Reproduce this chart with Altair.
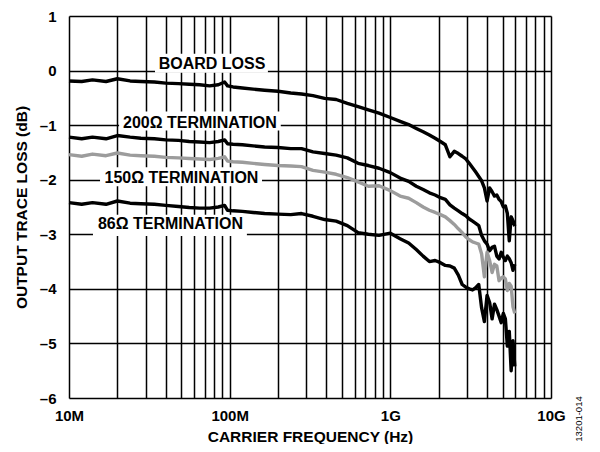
import altair as alt
import pandas as pd

# Frequencies in MHz (shared sample grid)
freq_mhz = [10, 12, 14, 17, 20, 24, 28, 34, 40, 48, 56, 65, 75, 85, 93, 97, 105, 120, 140, 165,
            200, 240, 280, 330, 390, 460, 540, 630, 730, 850, 1000, 1150, 1300, 1450, 1600, 1750,
            1900, 2050, 2200, 2350, 2500, 2650, 2800, 2950, 3100, 3250, 3400, 3550, 3700, 3850,
            4000, 4150, 4300, 4450, 4600, 4750, 4900, 5050, 5200, 5350, 5500, 5650, 5800, 5950]

board_loss = [-0.19, -0.20, -0.17, -0.20, -0.15, -0.19, -0.20, -0.21, -0.23, -0.24, -0.25, -0.26,
              -0.28, -0.26, -0.21, -0.28, -0.30, -0.32, -0.34, -0.36, -0.38, -0.41, -0.43, -0.46,
              -0.51, -0.53, -0.60, -0.66, -0.72, -0.78, -0.86, -0.93, -0.99, -1.06, -1.12, -1.18,
              -1.24, -1.30, -1.36, -1.58, -1.48, -1.52, -1.57, -1.62, -1.70, -1.78, -1.86, -1.94,
              -2.02, -2.15, -2.39, -2.15, -2.22, -2.30, -2.28, -2.36, -2.40, -2.50, -2.48, -2.62,
              -3.12, -2.68, -2.75, -2.85]

term_200 = [-1.22, -1.25, -1.22, -1.25, -1.19, -1.22, -1.24, -1.25, -1.27, -1.28, -1.30, -1.31,
            -1.32, -1.30, -1.27, -1.34, -1.35, -1.36, -1.38, -1.40, -1.41, -1.43, -1.43, -1.49,
            -1.52, -1.55, -1.60, -1.70, -1.74, -1.79, -1.87, -1.97, -2.03, -2.12, -2.18, -2.24,
            -2.28, -2.33, -2.36, -2.46, -2.52, -2.57, -2.62, -2.66, -2.72, -2.76, -2.80, -2.84,
            -3.02, -3.12, -3.18, -3.30, -3.24, -3.22, -3.40, -3.45, -3.33, -3.42, -3.48, -3.40,
            -3.45, -3.52, -3.66, -3.55]

term_150 = [-1.54, -1.57, -1.53, -1.56, -1.51, -1.55, -1.56, -1.57, -1.59, -1.60, -1.61, -1.62,
            -1.63, -1.61, -1.58, -1.66, -1.67, -1.68, -1.70, -1.72, -1.74, -1.75, -1.76, -1.83,
            -1.86, -1.90, -1.96, -2.04, -2.12, -2.11, -2.20, -2.30, -2.34, -2.42, -2.50, -2.56,
            -2.60, -2.64, -2.68, -2.75, -2.82, -2.90, -2.97, -3.05, -3.10, -3.14, -3.16, -3.18,
            -3.36, -3.78, -3.33, -3.48, -3.70, -3.55, -3.58, -3.85, -3.80, -3.78, -3.82, -4.03,
            -3.90, -3.95, -4.33, -4.45]

term_86 = [-2.42, -2.45, -2.42, -2.45, -2.39, -2.43, -2.44, -2.45, -2.47, -2.49, -2.51, -2.52,
           -2.52, -2.50, -2.47, -2.56, -2.57, -2.58, -2.60, -2.62, -2.63, -2.64, -2.62, -2.67,
           -2.73, -2.76, -2.84, -2.97, -3.00, -3.02, -2.98, -3.08, -3.16, -3.28, -3.40, -3.50,
           -3.48, -3.52, -3.57, -3.58, -3.62, -3.75, -3.92, -3.97, -4.00, -4.02, -3.98, -3.92,
           -4.35, -4.60, -4.12, -4.25, -4.55, -4.28, -4.38, -4.50, -4.62, -4.45, -4.55, -5.05,
           -4.78, -5.50, -4.95, -5.42]

series_names = ["BOARD LOSS", "200Ω TERMINATION", "86Ω TERMINATION", "150Ω TERMINATION"]
series_values = [board_loss, term_200, term_86, term_150]

# Label annotations: text, text position (MHz, dB), white box extents (MHz, dB)
label_text = ["BOARD LOSS", "200Ω TERMINATION", "150Ω TERMINATION", "86Ω TERMINATION"]
label_x = [77.6, 65.3, 50.1, 42.8]
label_y = [0.12, -0.96, -1.96, -2.82]
box_x0 = [34.3, 20.5, 15.6, 14.1]
box_x1 = [173, 208, 159, 128]
box_y0 = [0.31, -0.75, -1.77, -2.64]
box_y1 = [-0.04, -1.10, -2.12, -3.03]

x_tick_values = [10_000_000, 100_000_000, 1_000_000_000, 10_000_000_000]
x_tick_labels = ["10M", "100M", "1G", "10G"]
x_grid_values = [k * 10 ** n for n in (7, 8, 9) for k in range(1, 10)] + [10_000_000_000]
y_values = [-6, -5, -4, -3, -2, -1, 0, 1]

rows = []
for name, vals in zip(series_names, series_values):
    for f, v in zip(freq_mhz, vals):
        rows.append({"series": name, "freq": f * 1e6, "loss": v})
df = pd.DataFrame(rows)

labels_df = pd.DataFrame({
    "text": label_text,
    "x": [v * 1e6 for v in label_x],
    "y": label_y,
    "x0": [v * 1e6 for v in box_x0],
    "x1": [v * 1e6 for v in box_x1],
    "y0": box_y0,
    "y1": box_y1,
})

label_expr = " : ".join(
    f"datum.value == {v} ? '{t}'" for v, t in zip(x_tick_values, x_tick_labels)
) + " : ''"

FONT = "Liberation Sans"

xscale = alt.Scale(type="log", domain=[1e7, 1e10], nice=False)
yscale = alt.Scale(domain=[-6, 1], nice=False, zero=False)

x_axis = alt.Axis(values=x_grid_values, labelExpr=label_expr, grid=True, ticks=False,
                  domain=False, labelOverlap=False, labelFlush=False, labelFont=FONT,
                  labelFontSize=15, labelFontWeight="bold", labelColor="black", labelPadding=10,
                  title="CARRIER FREQUENCY (Hz)", titleFont=FONT, titleFontSize=15.5,
                  titleFontWeight="bold", titleColor="black", titlePadding=6,
                  gridColor="black", gridWidth=1.5, gridOpacity=1)
y_axis = alt.Axis(values=y_values,
                  labelExpr="datum.value < 0 ? '–' + abs(datum.value) : '' + datum.value",
                  grid=True, ticks=False, domain=False, labelFlush=False, labelFont=FONT,
                  labelFontSize=15, labelFontWeight="bold", labelColor="black", labelPadding=13,
                  title="OUTPUT TRACE LOSS (dB)", titleFont=FONT, titleFontSize=15.5,
                  titleFontWeight="bold", titleColor="black", titlePadding=10,
                  gridColor="black", gridWidth=1.5, gridOpacity=1)

base = alt.Chart(df).encode(
    x=alt.X("freq:Q", scale=xscale, axis=x_axis),
    y=alt.Y("loss:Q", scale=yscale, axis=y_axis),
)

black_lines = base.transform_filter(alt.datum.series != "150Ω TERMINATION").mark_line(
    color="black", strokeWidth=3.4, strokeJoin="round"
).encode(detail="series:N", order="freq:Q")

gray_line = base.transform_filter(alt.datum.series == "150Ω TERMINATION").mark_line(
    color="#9c9c9c", strokeWidth=3.4, strokeJoin="round"
).encode(order="freq:Q")

boxes = alt.Chart(labels_df).mark_rect(fill="white").encode(
    x=alt.X("x0:Q", scale=xscale), x2="x1:Q",
    y=alt.Y("y0:Q", scale=yscale), y2="y1:Q",
)

texts = alt.Chart(labels_df).mark_text(
    font=FONT, fontSize=16, fontWeight="bold", color="black", align="center", baseline="middle"
).encode(
    x=alt.X("x:Q", scale=xscale), y=alt.Y("y:Q", scale=yscale), text="text:N"
)

footnote = alt.Chart(pd.DataFrame({"t": ["13201-014"]})).mark_text(
    font=FONT, fontSize=9.5, color="black", angle=270, align="center", baseline="middle"
).encode(x=alt.value(510), y=alt.value(403), text="t:N")

chart = alt.layer(base.mark_line(opacity=0), boxes, black_lines, gray_line, texts, footnote).properties(
    width=482, height=382,
    autosize=alt.AutoSizeParams(type="none"),
    padding={"left": 61, "top": 8, "right": 41, "bottom": 46},
).configure_view(stroke="black", strokeWidth=2).configure(background="white")

chart.save("out.html", embed_options={"renderer": "svg", "actions": False})
